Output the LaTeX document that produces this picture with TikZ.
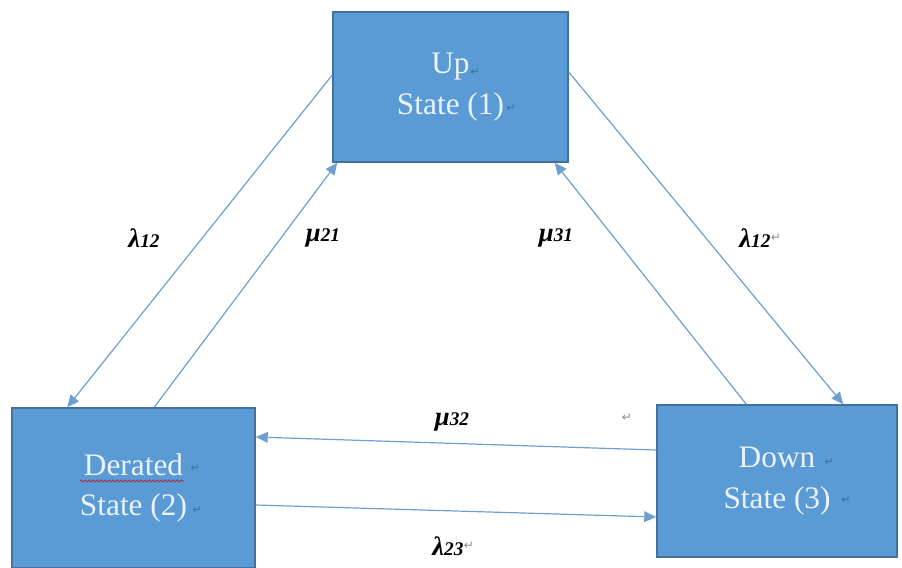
\documentclass[tikz,border=0pt]{standalone}
\usepackage{fontspec}
\setmainfont{Liberation Serif}
\newfontfamily\symfont{DejaVu Sans}
\usetikzlibrary{arrows.meta,calc,decorations.pathmorphing}
\definecolor{boxfill}{HTML}{5B9BD5}
\definecolor{boxline}{HTML}{41719C}
\definecolor{arrowc}{HTML}{6F9FCF}
\definecolor{txt}{HTML}{EAF3FB}
\definecolor{pmark}{HTML}{8A8A8A}
\definecolor{spell}{HTML}{A0304A}
\newcommand\subd[1]{{\fontsize{14.5}{16}\selectfont #1}}
\begin{document}
\begin{tikzpicture}[x=0.75pt,y=-0.75pt,
  statebox/.style={draw=boxline, line width=1.1pt, fill=boxfill, text=txt,
    inner sep=0pt, align=center, font=\fontsize{23.5}{30.5}\selectfont},
  trans/.style={draw=arrowc, line width=0.9pt, -{Triangle[length=9pt,width=8pt]}},
  rate/.style={font=\fontsize{20}{22}\selectfont\bfseries\itshape, inner sep=0pt},
  pmk/.style={font=\symfont\fontsize{9}{10}\selectfont, text=pmark, inner sep=0pt},
  bmk/.style={font=\symfont\fontsize{8}{9}\selectfont, text=boxline!70!black, opacity=0.6, inner sep=0pt},
]
\useasboundingbox (0,0) rectangle (902,567);
\begin{scope}
\clip (0,0) rectangle (902,567);
\node[statebox, minimum width=176.25pt, minimum height=112.5pt] (up) at (450.5,87) {Up\\State (1)};
\node[statebox, minimum width=182.25pt, minimum height=120pt] (der) at (133.5,488) {Derated\\State (2)};
\node[statebox, minimum width=180pt, minimum height=114pt] (down) at (777,481) {Down\\State (3)};
\end{scope}

% spelling underline and paragraph marks in boxes
\draw[spell, line width=0.6pt, decorate, decoration={snake, amplitude=0.8pt, segment length=3pt}]
  (80,481) -- (184,481);
\node[bmk] (pu1) at (475,72) {↵};
\node[bmk] (pu2) at (511,108) {↵};
\node[bmk] (pd1) at (195,468) {↵};
\node[bmk] (pd2) at (197,510) {↵};
\node[bmk] (pw1) at (829,462) {↵};
\node[bmk] (pw2) at (846,500) {↵};

% transitions
\draw[trans] ($(up.west)+(0,-12)$) -- ($(der.north west)+(56,0)$);
\draw[trans] ($(der.north west)+(143,0)$) -- ($(up.south west)+(5,0)$);
\draw[trans] ($(down.north west)+(90,0)$) -- ($(up.south east)+(-14,0)$);
\draw[trans] ($(up.east)+(0,-15)$) -- ($(down.north west)+(187,0)$);
\draw[trans] ($(down.west)+(0,-31)$) -- ($(der.east)+(0,-51)$);
\draw[trans] ($(der.east)+(0,17)$) -- ($(down.west)+(0,36)$);

% rate labels
\node[rate] (l12a) at (144,238) {λ\subd{12}};
\node[rate] (m21) at (323,238) {μ\subd{21}};
\node[rate] (m31) at (556,238) {μ\subd{31}};
\node[rate, anchor=west] (l12b) at (739,238) {λ\subd{12}};
\node[pmk, anchor=west] (pl12b) at (l12b.east) {↵};
\node[rate] (m32) at (452,422) {μ\subd{32}};
\node[pmk] (pm32) at (627,418) {↵};
\node[rate, anchor=west] (l23) at (432,546) {λ\subd{23}};
\node[pmk, anchor=west] (pl23) at (l23.east) {↵};
\end{tikzpicture}
\end{document}
